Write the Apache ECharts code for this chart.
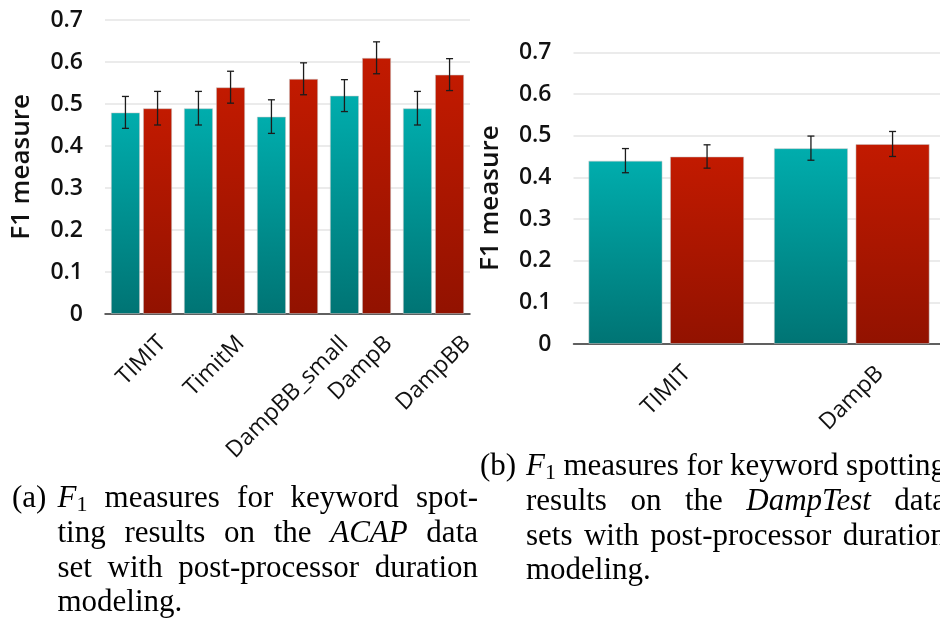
<!DOCTYPE html>
<html><head><meta charset="utf-8">
<script src="https://cdn.jsdelivr.net/npm/echarts/dist/echarts.min.js"></script>
<style>html,body{margin:0;padding:0;background:#fff}#c{width:940px;height:622px}</style>
</head><body><div id="c"></div>
<script>
// ---------- data ----------
const catsA = ['TIMIT', 'TimitM', 'DampBB_small', 'DampB', 'DampBB'];
const tealA = [0.48, 0.49, 0.47, 0.52, 0.49];
const redA = [0.49, 0.54, 0.56, 0.61, 0.57];
const tealErrA = [0.038, 0.04, 0.04, 0.038, 0.04];
const redErrA = [0.04, 0.038, 0.038, 0.038, 0.038];

const catsB = ['TIMIT', 'DampB'];
const tealB = [0.44, 0.47];
const redB = [0.45, 0.48];
const tealErrB = [0.029, 0.029];
const redErrB = [0.028, 0.03];

const yTickLabels = ['0', '0.1', '0.2', '0.3', '0.4', '0.5', '0.6', '0.7'];
const yName = 'F1 measure';

const captionA = ['F_1 measures for keyword spot-', 'ting results on the *ACAP* data', 'set with post-processor duration', 'modeling.'];
const captionB = ['F_1 measures for keyword spotting', 'results on the *DampTest* data', 'sets with post-processor duration', 'modeling.'];

// ---------- helpers ----------
const SANS = '"Open Sans", "Noto Sans", sans-serif';
const SERIF = '"Liberation Serif", "Times New Roman", serif';
const XFS = 23;
const mctx = document.createElement('canvas').getContext('2d');
function tw(t, font) { mctx.font = font; return mctx.measureText(t).width; }

function xRich(cats) {
  const rich = {};
  cats.forEach((c, i) => {
    const w = tw(c, XFS + 'px ' + SANS);
    const p = Math.round(w * 0.5);
    rich['l' + i] = { fontSize: XFS, fontFamily: SANS, color: '#111', padding: [p, p, 0, 0] };
  });
  return rich;
}

const tealGrad = new echarts.graphic.LinearGradient(0, 0, 0, 1, [
  { offset: 0, color: '#00adad' }, { offset: 1, color: '#007474' }]);
const redGrad = new echarts.graphic.LinearGradient(0, 0, 0, 1, [
  { offset: 0, color: '#c21a00' }, { offset: 1, color: '#921200' }]);

function barSeries(name, idx, vals, color) {
  return {
    type: 'bar', name, xAxisIndex: idx, yAxisIndex: idx, data: vals,
    barWidth: '40%', barGap: '10%',
    itemStyle: { color, borderColor: 'rgba(200,200,200,0.5)', borderWidth: 1 },
    emphasis: { disabled: true }, animation: false
  };
}
function errSeries(name, idx, vals, errs, side) {
  return {
    type: 'custom', name, xAxisIndex: idx, yAxisIndex: idx, z: 10, animation: false,
    data: vals.map((v, i) => [i, v - errs[i], v + errs[i]]),
    encode: { x: 0, y: [1, 2] },
    renderItem(params, api) {
      const band = api.size([1, 0])[0];
      const lo = api.coord([api.value(0), api.value(1)]);
      const hi = api.coord([api.value(0), api.value(2)]);
      const x = lo[0] + side * 0.22 * band;
      const cw = 3.5;
      const st = { stroke: '#1c1c1c', lineWidth: 1.3 };
      return {
        type: 'group', children: [
          { type: 'line', shape: { x1: x, y1: hi[1], x2: x, y2: lo[1] }, style: st },
          { type: 'line', shape: { x1: x - cw, y1: hi[1], x2: x + cw, y2: hi[1] }, style: st },
          { type: 'line', shape: { x1: x - cw, y1: lo[1], x2: x + cw, y2: lo[1] }, style: st }
        ]
      };
    }
  };
}
function xAxis(idx, cats) {
  return {
    type: 'category', gridIndex: idx, data: cats,
    axisLine: { lineStyle: { color: '#333', width: 1.5 } },
    axisTick: { show: false },
    axisLabel: {
      interval: 0, rotate: 45, align: 'center', verticalAlign: 'middle', margin: 26,
      formatter: (v, i) => '{l' + i + '|' + v + '}', rich: xRich(cats)
    }
  };
}
function yAxis(idx) {
  return {
    type: 'value', gridIndex: idx, min: 0, max: 0.7, interval: 0.1,
    axisLine: { show: false }, axisTick: { show: false },
    splitLine: { lineStyle: { color: '#e4e4e4', width: 1.5 } },
    axisLabel: {
      margin: 22, fontSize: 23, fontWeight: 600, fontFamily: SANS, color: '#111',
      formatter: (v) => yTickLabels[Math.round(v * 10)]
    },
    name: yName, nameLocation: 'middle', nameGap: 70,
    nameTextStyle: { fontSize: 26, fontWeight: 600, fontFamily: SANS, color: '#111' }
  };
}

// caption layout (justified)
const CFS = 31;
function cfont(r) { return (r.it ? 'italic ' : '') + (r.sub ? 22 : CFS) + 'px ' + SERIF; }
function parseWord(w) {
  if (w === 'F_1') return [{ t: 'F', it: true }, { t: '1', sub: true }];
  if (w[0] === '*') return [{ t: w.replace(/\*/g, ''), it: true }];
  return [{ t: w }];
}
function wWidth(runs) { return runs.reduce((s, r) => s + tw(r.t, cfont(r)), 0); }
function txt(t, x, base, font, size) {
  return { type: 'text', x: x, y: base - 0.2 * size, silent: true,
    style: { text: t, font: font, fill: '#000', textAlign: 'left', textVerticalAlign: 'middle' } };
}
function caption(label, lx, x0, x1, bases, lines) {
  const els = [txt(label, lx, bases[0], CFS + 'px ' + SERIF, CFS)];
  lines.forEach((line, li) => {
    const words = line.split(' ').map(parseWord);
    const widths = words.map(wWidth);
    const total = widths.reduce((a, b) => a + b, 0);
    const last = li === lines.length - 1;
    const gap = (!last && words.length > 1) ? (x1 - x0 - total) / (words.length - 1) : tw(' ', CFS + 'px ' + SERIF) * 1.2;
    let x = x0;
    words.forEach((runs, wi) => {
      let rx = x;
      runs.forEach(r => {
        const size = r.sub ? 22 : CFS;
        els.push(txt(r.t, rx, bases[li] + (r.sub ? 5 : 0), cfont(r), size));
        rx += tw(r.t, cfont(r));
      });
      x += widths[wi] + gap;
    });
  });
  return els;
}

const chart = echarts.init(document.getElementById('c'), null, { renderer: 'canvas' });
chart.setOption({
  animation: false,
  backgroundColor: '#fff',
  textStyle: { fontFamily: SANS },
  grid: [
    { left: 105, top: 20, width: 365, height: 294, outerBoundsMode: 'none', containLabel: false },
    { left: 573.5, top: 52.3, width: 371, height: 291.7, outerBoundsMode: 'none', containLabel: false }
  ],
  xAxis: [xAxis(0, catsA), xAxis(1, catsB)],
  yAxis: [yAxis(0), yAxis(1)],
  series: [
    barSeries('without', 0, tealA, tealGrad),
    barSeries('with', 0, redA, redGrad),
    errSeries('errWithout', 0, tealA, tealErrA, -1),
    errSeries('errWith', 0, redA, redErrA, 1),
    barSeries('without', 1, tealB, tealGrad),
    barSeries('with', 1, redB, redGrad),
    errSeries('errWithout', 1, tealB, tealErrB, -1),
    errSeries('errWith', 1, redB, redErrB, 1)
  ],
  graphic: [
    ...caption('(a)', 12, 57.5, 478, [505, 540, 575, 609], captionA),
    ...caption('(b)', 480, 526, 946, [473, 508, 543, 577], captionB)
  ]
});
</script></body></html>
